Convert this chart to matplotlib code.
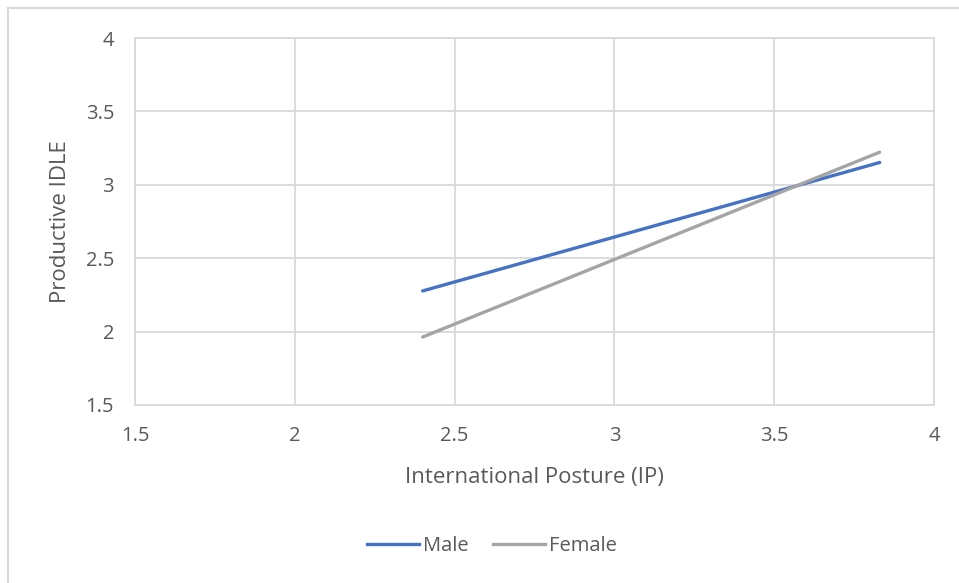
import matplotlib.pyplot as plt
from matplotlib.patches import Rectangle
from matplotlib.lines import Line2D

# series
ip = [2.40, 3.83]
male = [2.277, 3.152]
female = [1.963, 3.222]

x_ticks = [1.5, 2, 2.5, 3, 3.5, 4]
y_ticks = [1.5, 2, 2.5, 3, 3.5, 4]

plt.rcParams['font.family'] = ['Open Sans', 'DejaVu Sans']
text_col = '#595959'
grid_col = '#D9D9D9'

fig = plt.figure(figsize=(9.59, 5.83), dpi=100)
W, H = 959, 583

# outer chart border (only top/left visible in the crop)
fig.patches.append(Rectangle((8 / W, -0.1), 1.2, 1 - 8 / H + 0.1, transform=fig.transFigure,
                             fill=False, edgecolor=grid_col, linewidth=1.5))

left, right, top, bottom = 135, 934, 38, 405
ax = fig.add_axes([left / W, 1 - bottom / H, (right - left) / W, (bottom - top) / H])

ax.plot(ip, male, color='#4472C4', lw=2.4, solid_capstyle='round', label='Male', zorder=3)
ax.plot(ip, female, color='#A5A5A5', lw=2.4, solid_capstyle='round', label='Female', zorder=3)

ax.set_xlim(1.5, 4)
ax.set_ylim(1.5, 4)
ax.set_xticks(x_ticks)
ax.set_yticks(y_ticks)
ax.set_xticklabels([f'{v:g}' for v in x_ticks])
ax.set_yticklabels([f'{v:g}' for v in y_ticks])
ax.grid(True, color=grid_col, lw=1.3)
ax.set_axisbelow(True)
for s in ax.spines.values():
    s.set_color(grid_col)
    s.set_linewidth(1.3)
ax.tick_params(length=0, labelsize=14.5, colors=text_col)
ax.tick_params(axis='y', pad=15)
ax.tick_params(axis='x', pad=15)

ax.set_xlabel('International Posture (IP)', fontsize=16, color=text_col, va='center')
ax.xaxis.set_label_coords(((left + right) / 2 - left) / (right - left), (bottom - 477) / (bottom - top))
ax.set_ylabel('Productive IDLE', fontsize=16, color=text_col, va='center')
ax.yaxis.set_label_coords((60 - left) / (right - left), 0.5)

handles = [Line2D([], [], color='#4472C4', lw=2.4), Line2D([], [], color='#A5A5A5', lw=2.4)]
fig.legend(handles, ['Male', 'Female'], loc='center', bbox_to_anchor=(492 / W, 1 - 546 / H),
           ncol=2, frameon=False, fontsize=14.5, labelcolor=text_col,
           handlelength=2.6, handletextpad=0.2, columnspacing=1.2)

fig.savefig('out.png', dpi=100)
